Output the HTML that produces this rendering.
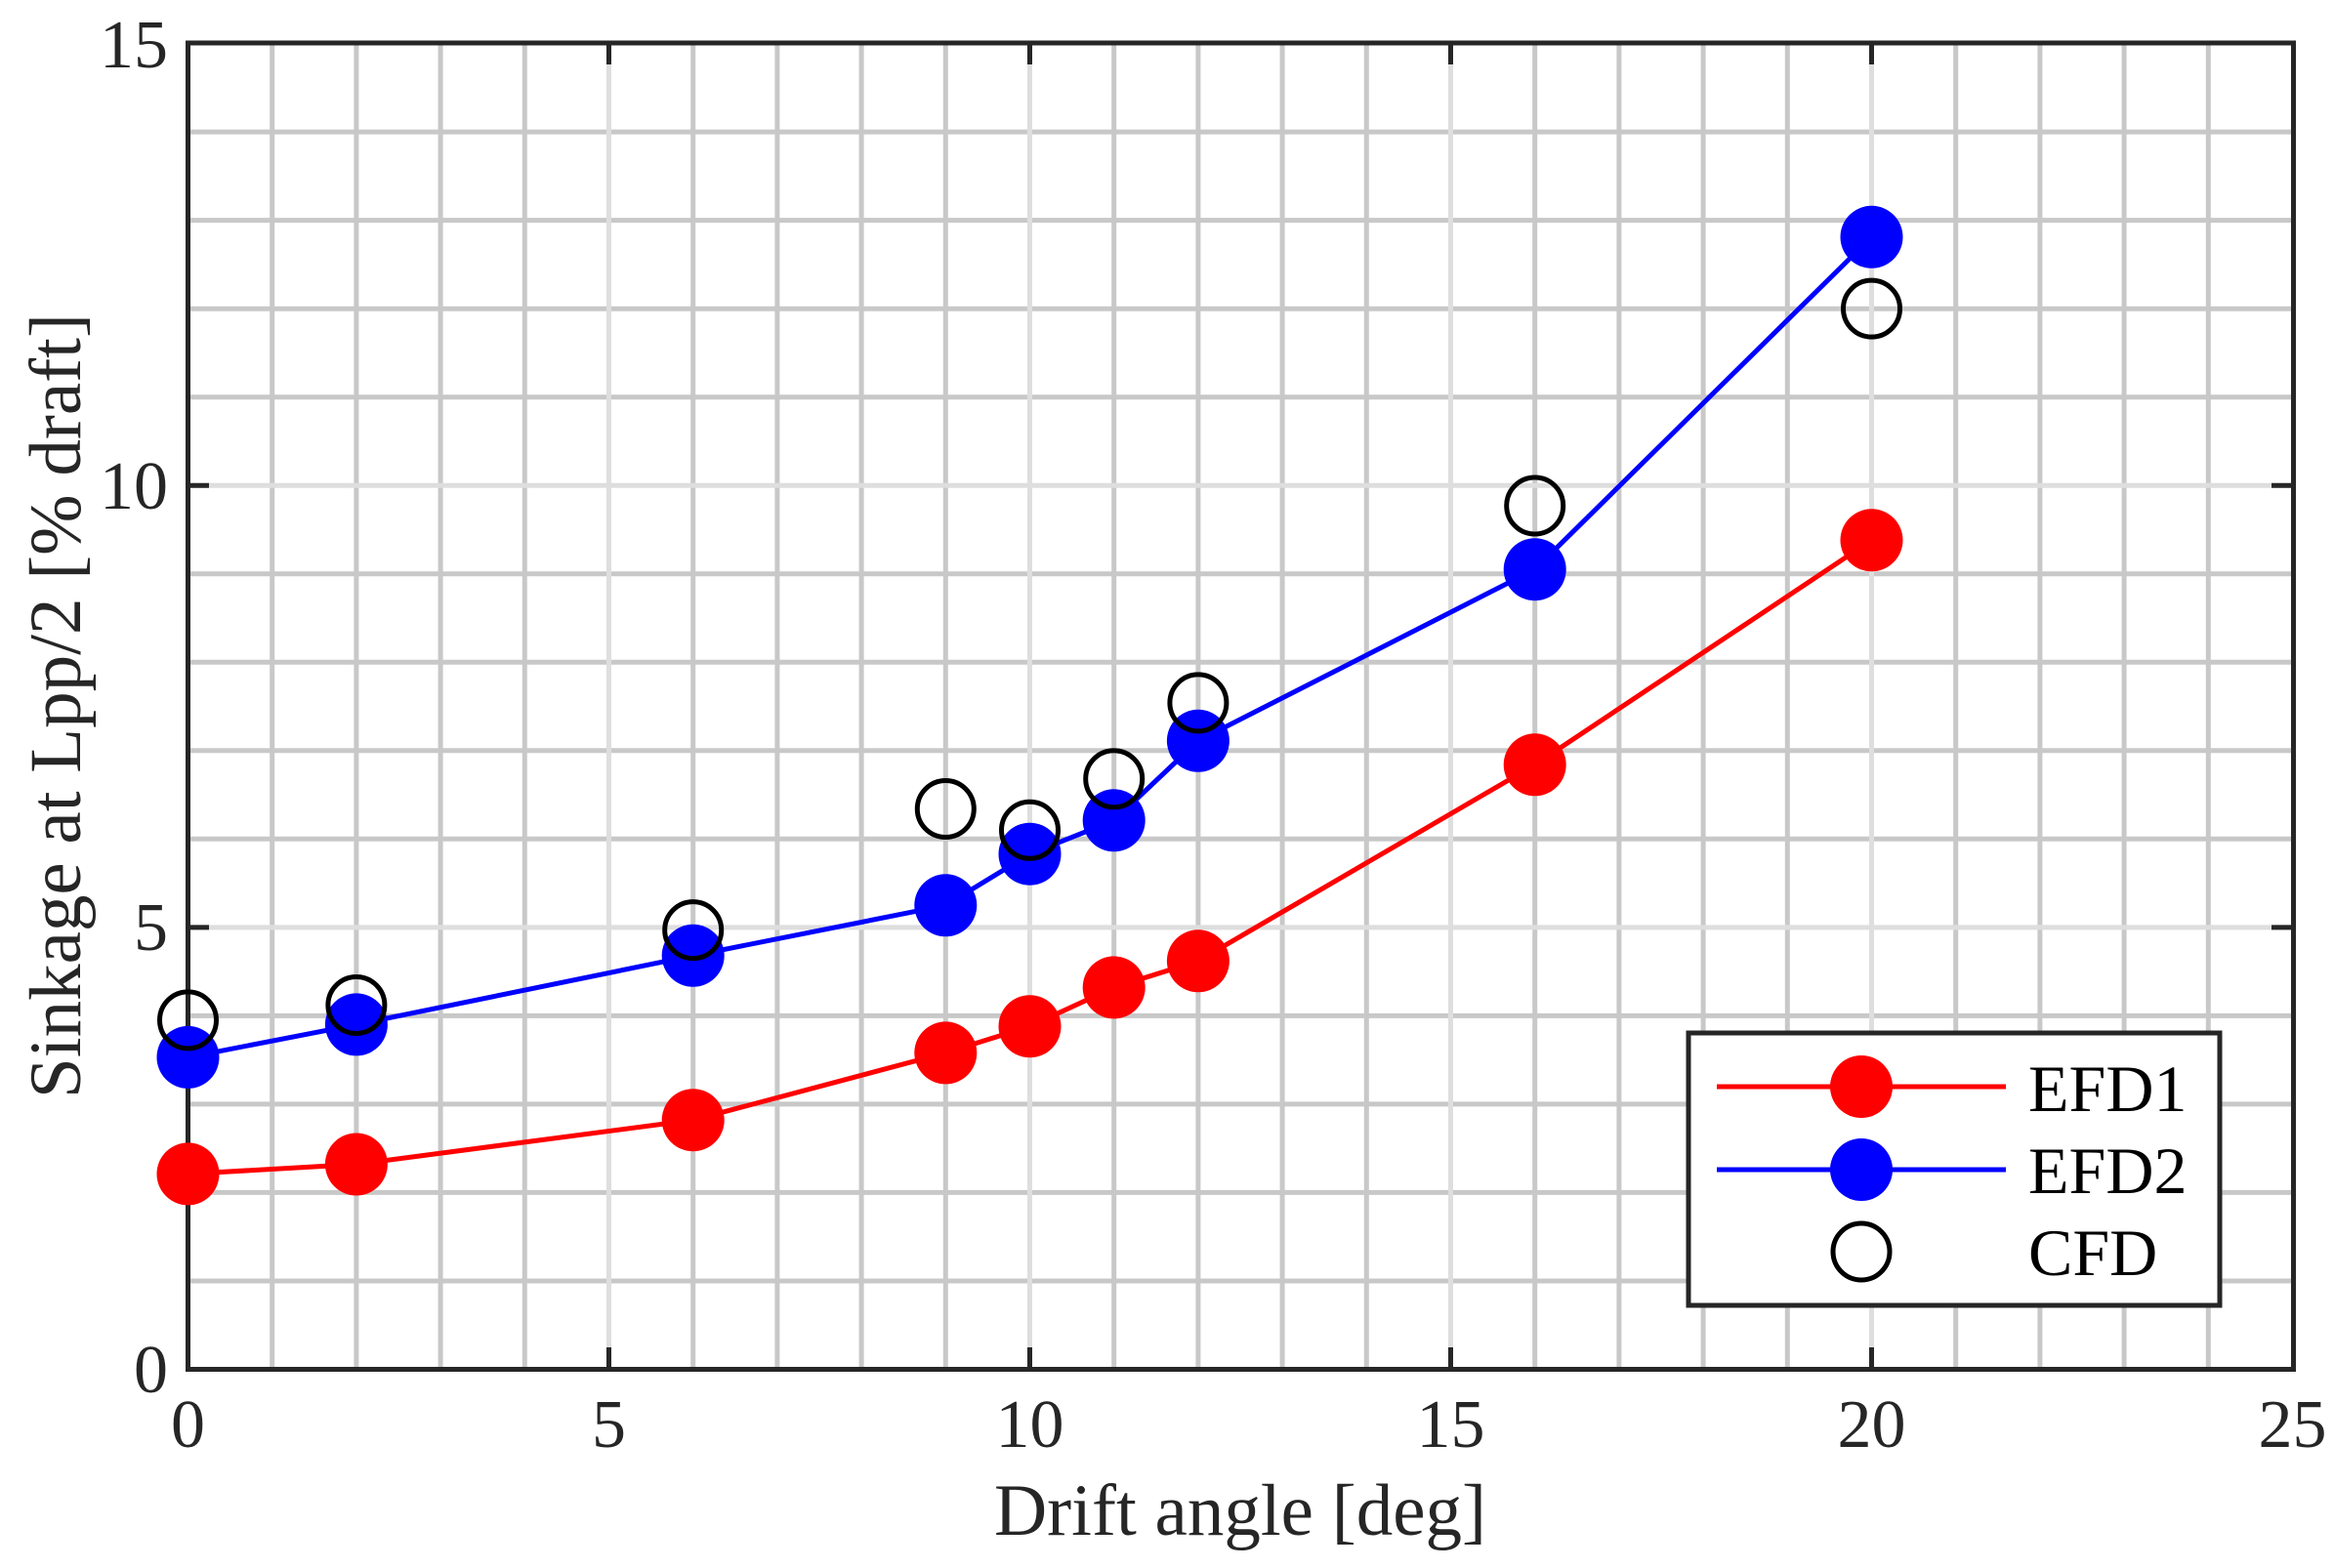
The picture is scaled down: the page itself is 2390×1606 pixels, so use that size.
<!DOCTYPE html>
<html><head><meta charset="utf-8"><style>
html,body{margin:0;padding:0;background:#fff;}
svg{display:block;}
text{font-family:"Liberation Serif","Times New Roman",serif;fill:#262626;}
</style></head><body>
<svg width="2390" height="1606" viewBox="0 0 2390 1606" xmlns="http://www.w3.org/2000/svg">
<rect width="2390" height="1606" fill="#fff"/>
<g stroke="#c8c8c8" stroke-width="5" fill="none">
<path d="M278.7 44V1402M364.9 44V1402M451.1 44V1402M537.3 44V1402M709.7 44V1402M795.9 44V1402M882.1 44V1402M968.3 44V1402M1140.7 44V1402M1226.9 44V1402M1313.1 44V1402M1399.3 44V1402M1571.7 44V1402M1657.9 44V1402M1744.1 44V1402M1830.3 44V1402M2002.7 44V1402M2088.9 44V1402M2175.1 44V1402M2261.3 44V1402"/>
<path d="M192 1312H2348M192 1221.4H2348M192 1130.9H2348M192 1040.4H2348M192 859.3H2348M192 768.8H2348M192 678.3H2348M192 587.8H2348M192 406.7H2348M192 316.2H2348M192 225.6H2348M192 135.1H2348"/>
</g>
<g stroke="#dedede" stroke-width="5" fill="none">
<path d="M623.5 44V1402M1054.5 44V1402M1485.5 44V1402M1916.5 44V1402M192 949.9H2348M192 497.2H2348"/>
</g>
<g stroke="#262626" stroke-width="5" fill="none">
<path d="M623.5 1402V1380M1054.5 1402V1380M1485.5 1402V1380M1916.5 1402V1380M623.5 44V66M1054.5 44V66M1485.5 44V66M1916.5 44V66"/>
<path d="M192 949.9H214M192 497.2H214M2348 949.9H2326M2348 497.2H2326"/>
<rect x="192.5" y="44" width="2156" height="1358.5"/>
</g>
<polyline fill="none" stroke="#ff0000" stroke-width="5" points="192.5,1202.4 364.9,1192.5 709.7,1147.2 968.3,1078.4 1054.5,1051.2 1140.7,1011.4 1226.9,984.3 1571.7,783.3 1916.5,553.3"/>
<g fill="#ff0000">
<circle cx="192.5" cy="1202.4" r="32"/><circle cx="364.9" cy="1192.5" r="32"/><circle cx="709.7" cy="1147.2" r="32"/><circle cx="968.3" cy="1078.4" r="32"/><circle cx="1054.5" cy="1051.2" r="32"/><circle cx="1140.7" cy="1011.4" r="32"/><circle cx="1226.9" cy="984.3" r="32"/><circle cx="1571.7" cy="783.3" r="32"/><circle cx="1916.5" cy="553.3" r="32"/>
</g>
<polyline fill="none" stroke="#0000ff" stroke-width="5" points="192.5,1082.9 364.9,1049.4 709.7,978.8 968.3,927.3 1054.5,874.7 1140.7,840.3 1226.9,758.8 1571.7,583.2 1916.5,242.8"/>
<g fill="#0000ff">
<circle cx="192.5" cy="1082.9" r="32"/><circle cx="364.9" cy="1049.4" r="32"/><circle cx="709.7" cy="978.8" r="32"/><circle cx="968.3" cy="927.3" r="32"/><circle cx="1054.5" cy="874.7" r="32"/><circle cx="1140.7" cy="840.3" r="32"/><circle cx="1226.9" cy="758.8" r="32"/><circle cx="1571.7" cy="583.2" r="32"/><circle cx="1916.5" cy="242.8" r="32"/>
</g>
<g fill="none" stroke="#000" stroke-width="5">
<circle cx="192.5" cy="1044.9" r="29"/><circle cx="364.9" cy="1029.5" r="29"/><circle cx="709.7" cy="952.6" r="29"/><circle cx="968.3" cy="828.5" r="29"/><circle cx="1054.5" cy="850.3" r="29"/><circle cx="1140.7" cy="797.8" r="29"/><circle cx="1226.9" cy="719.9" r="29"/><circle cx="1571.7" cy="518" r="29"/><circle cx="1916.5" cy="316.1" r="29"/>
</g>
<g font-size="70" text-anchor="middle">
<text x="192.5" y="1482">0</text><text x="623.5" y="1482">5</text><text x="1054.5" y="1482">10</text><text x="1485.5" y="1482">15</text><text x="1916.5" y="1482">20</text><text x="2347.5" y="1482">25</text>
</g>
<g font-size="70" text-anchor="end">
<text x="172" y="1426">0</text><text x="172" y="973">5</text><text x="172" y="521">10</text><text x="172" y="69">15</text>
</g>
<text x="1270" y="1572" font-size="75" text-anchor="middle">Drift angle [deg]</text>
<text transform="translate(82,723) rotate(-90)" font-size="75" text-anchor="middle">Sinkage at Lpp/2 [% draft]</text>
<rect x="1729" y="1058" width="544" height="279" fill="#fff" stroke="#262626" stroke-width="5"/>
<line x1="1758" y1="1113" x2="2054" y2="1113" stroke="#ff0000" stroke-width="5"/>
<circle cx="1906" cy="1113" r="32" fill="#ff0000"/>
<line x1="1758" y1="1198" x2="2054" y2="1198" stroke="#0000ff" stroke-width="5"/>
<circle cx="1906" cy="1198" r="32" fill="#0000ff"/>
<circle cx="1906" cy="1282" r="29" fill="none" stroke="#000" stroke-width="5"/>
<g font-size="68">
<text x="2077" y="1138" style="fill:#000">EFD1</text>
<text x="2077" y="1222" style="fill:#000">EFD2</text>
<text x="2077" y="1306" style="fill:#000">CFD</text>
</g>
</svg>
</body></html>
